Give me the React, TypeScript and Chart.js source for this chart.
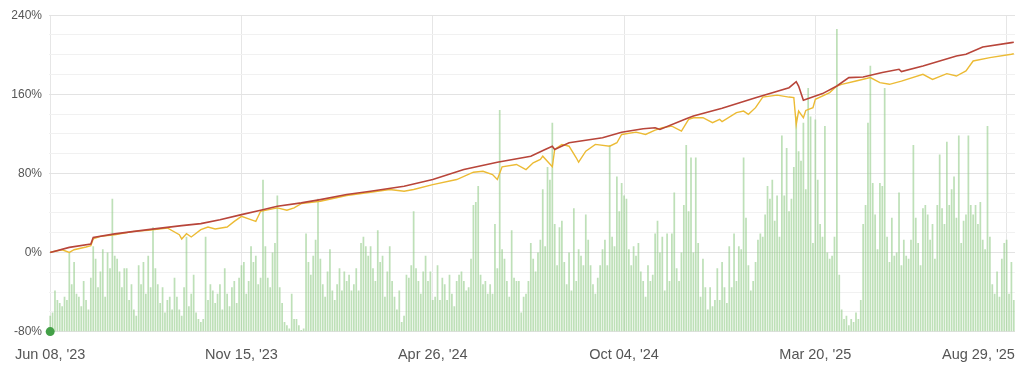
import { useEffect, useRef } from 'react';
import { Chart, registerables } from 'chart.js';

Chart.register(...registerables);

// Date tick labels, one every `tickStep` categories
const tickLabels = ["Jun 08, '23", "Nov 15, '23", "Apr 26, '24", "Oct 04, '24", "Mar 20, '25", "Aug 29, '25"];
const tickStep = 80;

// Green bars (share of plot height, 0-100), one per category
const barValues = [
  5, 6, 13, 10, 9, 8, 11, 10, 25, 15,
  22, 12, 11, 8, 16, 10, 7, 17, 27, 23,
  14, 19, 26, 11, 25, 20, 42, 24, 23, 19,
  14, 20, 20, 10, 15, 7, 5, 21, 15, 22,
  12, 24, 14, 33, 20, 15, 9, 14, 6, 10,
  11, 7, 17, 11, 7, 5, 14, 30, 8, 12,
  18, 6, 4, 3, 4, 30, 10, 15, 13, 9,
  12, 15, 7, 20, 12, 8, 14, 16, 9, 17,
  21, 22, 12, 16, 27, 22, 24, 15, 17, 48,
  27, 17, 14, 25, 28, 43, 14, 9, 3, 2,
  1, 12, 4, 4, 2, 0.5, 1, 31, 22, 18,
  24, 29, 42, 23, 15, 11, 19, 26, 13, 10,
  15, 20, 13, 19, 16, 18, 13, 15, 20, 13,
  28, 30, 27, 24, 27, 20, 16, 32, 22, 24,
  11, 19, 27, 16, 11, 7, 13, 3, 5, 18,
  17, 21, 38, 20, 16, 12, 19, 24, 16, 19,
  10, 11, 21, 10, 17, 15, 10, 18, 12, 8,
  16, 18, 19, 16, 13, 14, 23, 40, 41, 46,
  18, 15, 16, 12, 15, 12, 34, 20, 70, 26,
  23, 16, 11, 32, 17, 16, 16, 6, 11, 12,
  16, 28, 23, 19, 25, 29, 45, 27, 52, 48,
  66, 34, 21, 33, 35, 22, 15, 25, 13, 39,
  16, 26, 24, 21, 37, 29, 21, 15, 12, 17,
  21, 26, 29, 21, 59, 30, 27, 49, 38, 47,
  43, 42, 26, 21, 27, 24, 28, 19, 16, 11,
  21, 16, 18, 31, 35, 25, 30, 13, 31, 16,
  31, 44, 20, 16, 25, 40, 59, 38, 55, 25,
  55, 28, 11, 23, 14, 7, 14, 8, 10, 20,
  10, 22, 14, 9, 27, 14, 31, 16, 27, 26,
  55, 36, 21, 13, 16, 22, 29, 31, 30, 37,
  46, 42, 48, 35, 43, 30, 62, 43, 58, 38,
  42, 52, 68, 57, 54, 66, 45, 77, 68, 28,
  67, 48, 34, 30, 65, 25, 23, 24, 30, 95.6,
  18, 7, 4, 5, 2, 4, 3, 6, 4, 10,
  34, 40, 66, 84, 47, 37, 26, 47, 46, 77,
  30, 22, 36, 24, 25, 44, 21, 29, 24, 23,
  29, 59, 36, 28, 21, 39, 40, 37, 29, 34,
  23, 40, 56, 39, 34, 60, 40, 45, 49, 36,
  62, 28, 35, 37, 62, 40, 37, 40, 34, 41,
  29, 26, 65, 30, 15, 12, 19, 11, 23, 28,
  29, 12, 22, 10,
];

// Red line (category index, %)
const redIdx = [
  0, 8, 17, 18, 27, 41, 55, 63, 71, 80,
  88, 95, 105, 113, 124, 134, 148, 160, 173, 187,
  201, 207, 210, 211, 217, 231, 239, 248, 253, 255,
  266, 269, 281, 295, 309, 312, 313, 315, 323, 329,
  334, 340, 348, 355, 356, 365, 379, 383, 390, 402,
  403,
];
const redVals = [
  0, 5.2, 8.6, 15.3, 18.8, 23.1, 27.2, 29.2, 33.2, 38.3,
  42.7, 46.7, 50.2, 53.5, 58.6, 61.9, 67, 73.8, 83.9, 91.3,
  97.4, 104.2, 107.5, 104.2, 111, 116, 121.7, 125.2, 126.2, 124.5,
  135.3, 138, 145.8, 156.6, 166.7, 172.8, 168.4, 153.9, 160.7, 168.4,
  176.9, 177.5, 182, 185.3, 183, 188.6, 198.8, 200.5, 207.9, 212.3,
  212.6,
];

// Yellow line (category index, %)
const yellowIdx = [
  0, 5, 8, 10, 15, 17, 18, 21, 27, 35,
  41, 49, 54, 55, 57, 59, 63, 66, 69, 74,
  77, 80, 83, 86, 88, 95, 99, 102, 105, 113,
  124, 134, 142, 148, 152, 160, 170, 177, 181, 185,
  187, 189, 195, 199, 202, 205, 206, 210, 211, 214,
  217, 220, 221, 224, 228, 234, 237, 239, 245, 249,
  253, 256, 260, 264, 267, 269, 273, 277, 280, 281,
  287, 290, 292, 295, 298, 304, 309, 311, 312, 313,
  315, 316, 319, 320, 326, 329, 331, 337, 343, 347,
  351, 356, 365, 369, 375, 379, 383, 386, 393, 402,
  403,
];
const yellowVals = [
  0.3, 2.8, 0.1, 2.8, 5.6, 6.9, 13.7, 16.3, 18, 21.4,
  22.4, 24.8, 18, 13.7, 19, 15.7, 23.1, 25.8, 23.8, 25.8,
  31.5, 36.6, 34, 31.5, 41.7, 45.1, 42.7, 45.1, 49.5, 51.8,
  57.6, 60.9, 63.7, 61.9, 63.7, 68.7, 73.8, 81.2, 82.2, 78.9,
  73.8, 86.7, 89, 83.9, 90.7, 94.1, 97.4, 86.7, 104.2, 109.3,
  107.5, 95.8, 91.3, 102.5, 109.3, 107.5, 111, 119.4, 121.7, 119.4,
  123.8, 126.2, 127.8, 122.7, 134.6, 136.3, 136.3, 131.3, 134.6, 132.3,
  141.4, 143, 139.7, 146.5, 157.2, 159.2, 157.2, 156.6, 129.5, 143,
  136.3, 143.7, 146.5, 154.9, 161.7, 168.4, 170.1, 173.4, 176.9, 171.8,
  170.1, 173.4, 180.2, 175.1, 180.9, 178.5, 183.6, 193.7, 197.1, 200.5,
  201,
];

// Y axis
const yMin = -80;
const yMax = 240;
const yStep = 20;
const yLabelStep = 80;

const FONT = '"Liberation Sans", Arial, Helvetica, sans-serif';
const CLEAR = 'rgba(0,0,0,0)';

export default function App() {
  const canvasRef = useRef<HTMLCanvasElement | null>(null);

  useEffect(() => {
    if (!canvasRef.current) return;
    const categories = barValues.map((_, i) => i);
    const lastTick = (tickLabels.length - 1) * tickStep;

    const chart = new Chart(canvasRef.current, {
      type: 'bar',
      data: {
        labels: categories,
        datasets: [
          {
            type: 'line',
            label: 'start',
            data: [{ x: 0, y: yMin }],
            yAxisID: 'y',
            borderColor: '#43a047',
            backgroundColor: '#43a047',
            pointRadius: 4.5,
            pointBorderWidth: 0,
            showLine: false,
            clip: false,
            order: 0,
          } as any,
          {
            type: 'line',
            label: 'red',
            data: redIdx.map((x, i) => ({ x, y: redVals[i] })),
            yAxisID: 'y',
            borderColor: '#b8453a',
            borderWidth: 1.6,
            pointRadius: 0,
            tension: 0,
            order: 1,
          } as any,
          {
            type: 'line',
            label: 'yellow',
            data: yellowIdx.map((x, i) => ({ x, y: yellowVals[i] })),
            yAxisID: 'y',
            borderColor: '#ecbb35',
            borderWidth: 1.4,
            pointRadius: 0,
            tension: 0,
            order: 2,
          } as any,
          {
            type: 'bar',
            label: 'bars',
            data: barValues,
            yAxisID: 'y2',
            backgroundColor: 'rgba(150,205,140,0.62)',
            borderWidth: 0,
            barPercentage: 0.72,
            categoryPercentage: 1,
            order: 3,
          } as any,
        ],
      },
      options: {
        animation: false,
        responsive: true,
        maintainAspectRatio: false,
        layout: { autoPadding: false, padding: { left: 3.3, right: 1, top: 1, bottom: 12 } },
        plugins: {
          legend: { display: false },
          tooltip: { enabled: false },
        },
        scales: {
          x: {
            type: 'category',
            offset: true,
            border: { display: false },
            grid: {
              offset: false,
              drawTicks: true,
              tickLength: 15,
              tickColor: CLEAR,
              lineWidth: 1,
              color: (ctx: any) => (ctx.index % tickStep === 0 ? '#e6e6e6' : CLEAR),
            },
            ticks: {
              autoSkip: false,
              maxRotation: 0,
              minRotation: 0,
              padding: 0,
              color: '#555',
              font: { family: FONT, size: 14.5 },
              callback: (_v: any, index: number) => {
                if (index % tickStep !== 0) return '';
                const lbl = tickLabels[index / tickStep];
                if (lbl === undefined) return '';
                return index === lastTick ? lbl + '              ' : lbl;
              },
            },
          },
          y: {
            min: yMin,
            max: yMax,
            border: { display: false },
            grid: {
              drawTicks: true,
              tickLength: 7,
              tickColor: CLEAR,
              color: (ctx: any) => (ctx.tick && ctx.tick.value % yLabelStep === 0 ? '#e3e3e3' : '#f1f1f1'),
            },
            ticks: {
              stepSize: yStep,
              autoSkip: false,
              padding: 0,
              color: '#555',
              font: { family: FONT, size: 12 },
              callback: (v: any) => (Number(v) % yLabelStep === 0 ? `${v}%` : ''),
            },
          },
          y2: {
            display: false,
            min: 0,
            max: 100,
          },
        },
      },
    });
    return () => chart.destroy();
  }, []);

  return (
    <div style={{ width: '100%', height: 368, position: 'relative' }}>
      <canvas ref={canvasRef} />
    </div>
  );
}
